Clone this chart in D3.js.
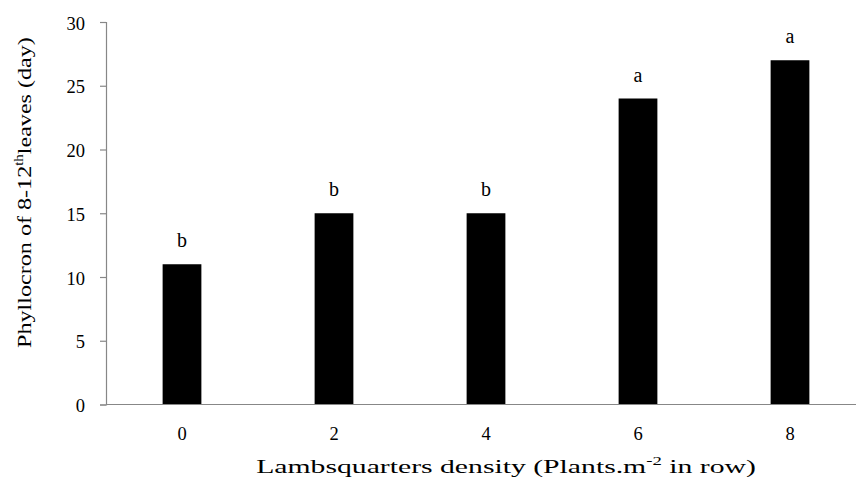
<!DOCTYPE html>
<html><head><meta charset="utf-8">
<script src="https://cdn.jsdelivr.net/npm/d3@7"></script>
<style>body{margin:0;background:#fff}svg{display:block}text{font-family:"Liberation Serif","Times New Roman",Tinos,"DejaVu Serif",serif;fill:#000}</style>
</head><body>
<svg id="c" width="856" height="481"></svg>
<script>
const categories = ["0","2","4","6","8"];
const values = [11,15,15,24,27];
const letters = ["b","b","b","a","a"];
const yTicks = [0,5,10,15,20,25,30];

const svg = d3.select("#c");
const mLeft = 106, mRight = 866, mTop = 22, mBottom = 404.5;
const x = d3.scaleBand().domain(categories).range([mLeft,mRight]).paddingInner(0.745).paddingOuter(0.3725);
const y = d3.scaleLinear().domain([0,30]).range([mBottom,mTop]);
const axisColor = "#878787";
const FONT = '"Liberation Serif","Times New Roman",Tinos,"DejaVu Serif",serif';

// y axis
const ya = svg.append("g").attr("transform",`translate(${mLeft},0)`)
  .call(d3.axisLeft(y).tickValues(yTicks).tickSize(6).tickPadding(15));
ya.attr("font-family",FONT);
ya.select(".domain").attr("stroke",axisColor).attr("stroke-width",1.2);
ya.selectAll(".tick line").attr("stroke",axisColor).attr("stroke-width",1.2);
ya.selectAll(".tick text").style("font-size","18.5px").attr("fill","#000").attr("dy","0.38em");

// bars
svg.selectAll("rect.bar").data(values).enter().append("rect").attr("class","bar")
  .attr("x",(d,i)=>x(categories[i])).attr("width",x.bandwidth())
  .attr("y",d=>y(d)).attr("height",d=>mBottom-y(d)).attr("fill","#000");

// x axis
const xa = svg.append("g").attr("transform",`translate(0,${mBottom})`)
  .call(d3.axisBottom(x).tickSize(0).tickPadding(22.5));
xa.attr("font-family",FONT);
xa.select(".domain").attr("stroke",axisColor).attr("stroke-width",1.2).attr("d",`M${mLeft},0H${mRight}`);
xa.selectAll(".tick text").style("font-size","18.5px").attr("fill","#000");

// letters
svg.selectAll("text.lt").data(values).enter().append("text").attr("class","lt")
  .attr("x",(d,i)=>x(categories[i])+x.bandwidth()/2).attr("y",d=>y(d)-17)
  .attr("text-anchor","middle").style("font-size","20px").text((d,i)=>letters[i]);

// y title
const ytG = svg.append("g").attr("transform","translate(31,192.5) rotate(-90)");
const yt = ytG.append("text").attr("text-anchor","middle").style("font-size","19.5px");
yt.append("tspan").text("Phyllocron of 8-12");
yt.append("tspan").text("th").style("font-size","12px").attr("dy","-8");
yt.append("tspan").text("leaves (day)").attr("dy","8");
const ytLen = yt.node().getComputedTextLength();
yt.attr("transform",`scale(${311/ytLen},1)`);

// x title
const xtG = svg.append("g").attr("transform","translate(506,473)");
const xt = xtG.append("text").attr("text-anchor","middle").style("font-size","19px");
xt.append("tspan").text("Lambsquarters density (Plants.m");
xt.append("tspan").text("-2").style("font-size","12px").attr("dy","-8");
xt.append("tspan").text(" in row)").attr("dy","8");
const xtLen = xt.node().getComputedTextLength();
xt.attr("transform",`scale(${500/xtLen},1)`);
</script>
</body></html>
